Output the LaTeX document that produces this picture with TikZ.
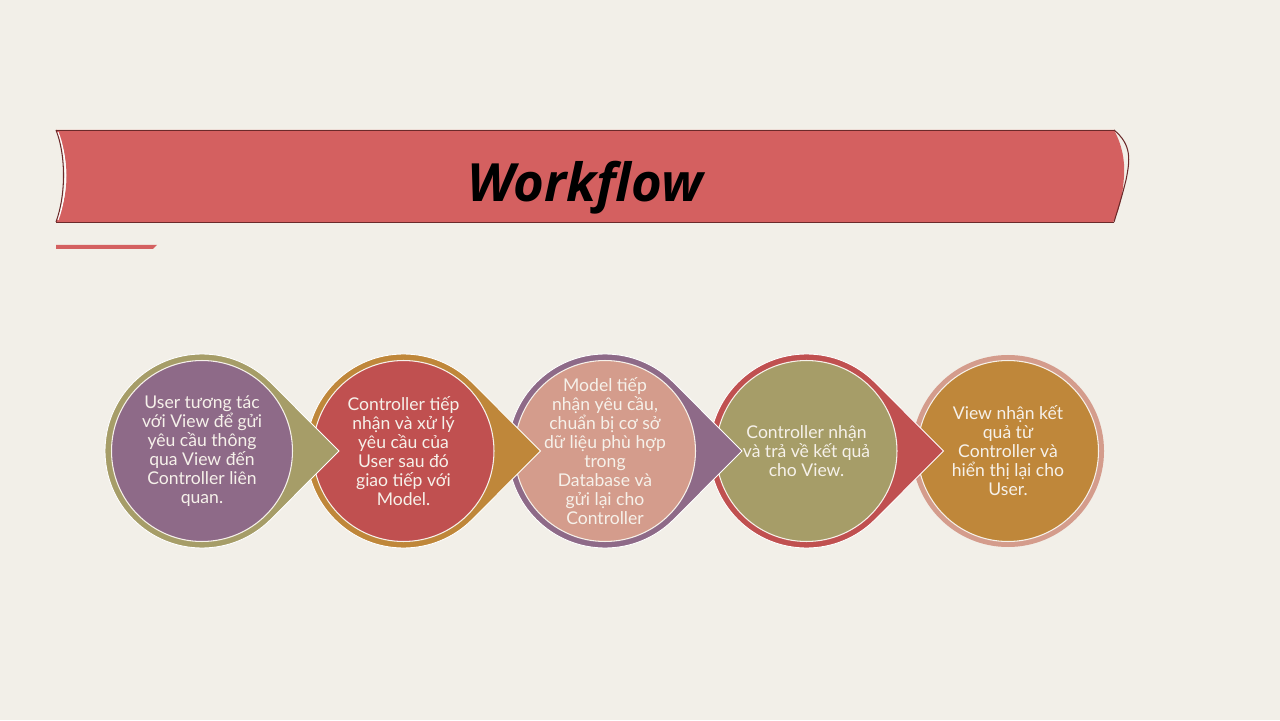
\documentclass[tikz,border=0pt]{standalone}
\usepackage{fontspec}
\newfontfamily\bodyfont{Lato}
\newfontfamily\titlefont{Open Sans}
\usetikzlibrary{calc}
\definecolor{bg}{HTML}{F2EFE8}
\definecolor{banner}{HTML}{D46060}
\definecolor{bannerline}{HTML}{6B2A2A}
\definecolor{colive}{HTML}{A69D68}
\definecolor{cpurple}{HTML}{8E6A88}
\definecolor{corange}{HTML}{BF873A}
\definecolor{cred}{HTML}{C05050}
\definecolor{cpink}{HTML}{D49C8C}
\definecolor{ctext}{HTML}{F6F1EA}
\tikzset{
  ring/.style={fill=#1, draw=white, line width=0.5pt},
  inner/.style={circle, fill=#1, draw=ctext, line width=0.6pt, minimum size=3.62cm, inner sep=0pt},
  label text/.style={font=\bodyfont\fontsize{10}{10.8}\selectfont, text=ctext, align=center, inner sep=0pt},
}
\newcommand{\ringpointer}[3]{% cx, cy, color
  \begin{scope}[shift={(#1,#2)}]
    \path[ring=#3] (137,0) -- (45:97) arc[start angle=45, end angle=315, radius=97] -- cycle;
  \end{scope}}
\begin{document}
\begin{tikzpicture}[x=0.02cm,y=0.02cm]
\useasboundingbox (0,0) rectangle (1280,720);
\fill[bg] (0,0) rectangle (1280,720);

% banner
\fill[banner] (56,498) .. controls (70,525) and (70,563) .. (56,590)
  -- (1114,590) .. controls (1122,575) and (1125,560) .. (1124,544)
  .. controls (1123,528) and (1120,510) .. (1113,498) -- cycle;
\draw[bannerline, line width=0.5pt] (56,590) -- (1114,590);
\draw[bannerline, line width=0.5pt] (56,498) -- (1114,498);
\draw[bannerline, line width=0.6pt] (56,590) .. controls (66,565) and (66,525) .. (56,498);
\draw[white, line width=0.6pt] (58,588) .. controls (68,563) and (68,527) .. (58,500);
\draw[bannerline, line width=0.6pt] (1114,590) .. controls (1132,575) and (1130,560) .. (1126,540)
  .. controls (1121,520) and (1117,508) .. (1114,498);
\node[font=\titlefont\bfseries\itshape\fontsize{30}{36}\selectfont, text=black] (title) at (585,532) {Workflow};
\fill[banner] (56,475) -- (157,475) -- (153,471) -- (56,471) -- cycle;

% circle 5
\fill[cpink] (1008,269) circle[radius=96];
\node[inner=corange] (c5) at (1008,269) {};
\node[label text] (t5) at (c5) {View nhận kết\\quả từ\\Controller và\\hiển thị lại cho\\User.};

% circle 4
\ringpointer{806.5}{269}{cred}
\node[inner=colive] (c4) at (806.5,269) {};
\node[label text] (t4) at (c4) {Controller nhận\\và trả về kết quả\\cho View.};

% circle 3
\ringpointer{605}{269}{cpurple}
\node[inner=cpink] (c3) at (605,269) {};
\node[label text] (t3) at (c3) {Model tiếp\\nhận yêu cầu,\\chuẩn bị cơ sở\\dữ liệu phù hợp\\trong\\Database và\\gửi lại cho\\Controller};

% circle 2
\ringpointer{403.5}{269}{corange}
\node[inner=cred] (c2) at (403.5,269) {};
\node[label text] (t2) at (c2) {Controller tiếp\\nhận và xử lý\\yêu cầu của\\User sau đó\\giao tiếp với\\Model.};

% circle 1
\ringpointer{202}{269}{colive}
\node[inner=cpurple] (c1) at (202,269) {};
\node[label text] (t1) at (c1) {User tương tác\\với View để gửi\\yêu cầu thông\\qua View đến\\Controller liên\\quan.};
\end{tikzpicture}
\end{document}
